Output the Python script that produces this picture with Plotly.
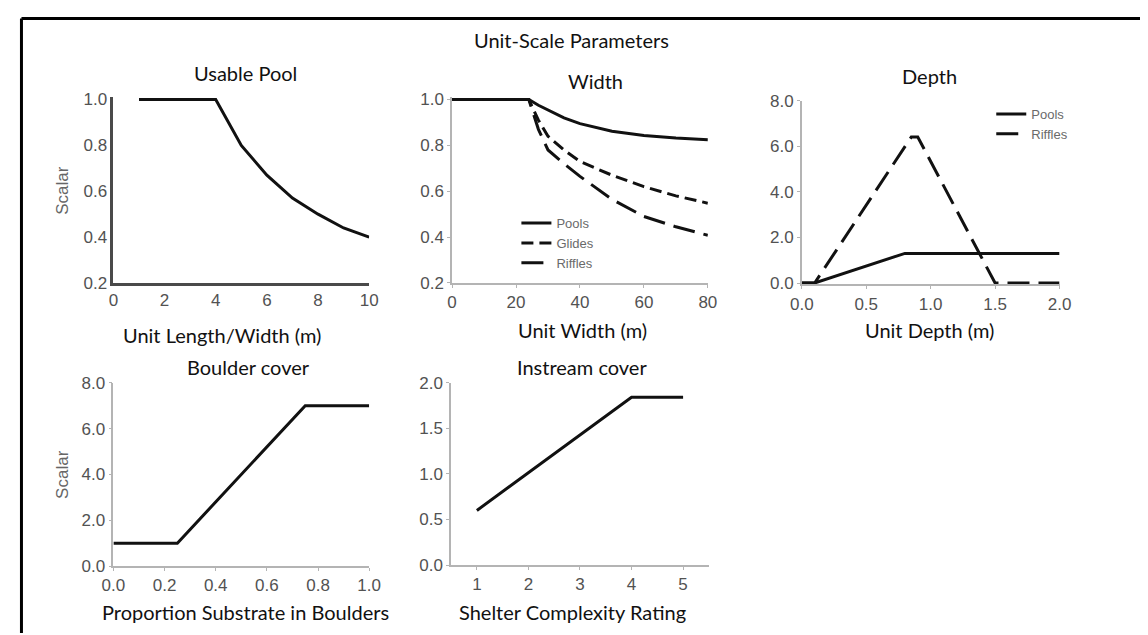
import plotly.graph_objects as go

W, H = 1148, 635

# ---------------- data ----------------
pool_length = [1, 2, 3, 4, 5, 6, 7, 8, 9, 10]
pool_scalar = [1.0, 1.0, 1.0, 1.0, 0.80, 0.67, 0.57, 0.50, 0.44, 0.40]

width_m = [0, 24, 27, 30, 35, 40, 50, 60, 70, 80]
width_pools = [1.0, 1.0, 0.975, 0.955, 0.92, 0.895, 0.862, 0.843, 0.832, 0.825]
width_glides = [1.0, 1.0, 0.91, 0.84, 0.78, 0.73, 0.67, 0.62, 0.58, 0.548]
width_riffles = [1.0, 1.0, 0.87, 0.78, 0.72, 0.665, 0.565, 0.49, 0.445, 0.408]

depth_pools_x = [0.0, 0.1, 0.8, 2.0]
depth_pools_y = [0.0, 0.0, 1.3, 1.3]
depth_riffles_x = [0.0, 0.1, 0.85, 0.9, 1.5, 2.0]
depth_riffles_y = [0.0, 0.0, 6.4, 6.4, 0.0, 0.0]

boulder_prop = [0.0, 0.25, 0.75, 1.0]
boulder_scalar = [1.0, 1.0, 7.0, 7.0]

shelter_rating = [1, 4, 5]
shelter_scalar = [0.6, 1.84, 1.84]

# ---------------- helpers (target pixel positions -> paper coords) ----------------
SX, OX = 0.98, 19.5
SY, OY = 0.973, 16.2


def px(x):
    return max(0.0, min(1.0, (x - OX) / SX / W))


def py(y):
    return max(0.0, min(1.0, 1 - (y - OY) / SY / H))


def ydomain(top_px, bottom_px):
    return [py(bottom_px), py(top_px)]


TICKFONT = dict(family="Liberation Sans, Arial, sans-serif", size=17, color="#525252")
TITLEFONT = dict(family="Lato, Open Sans, sans-serif", size=20, color="#111111")
LEGFONT = dict(family="Liberation Sans, Arial, sans-serif", size=13, color="#6a6a6a")

LIGHT = dict(showline=True, linecolor="#b4b4b4", linewidth=1.5, ticks="outside",
             ticklen=3, tickwidth=1, tickcolor="#b4b4b4", showgrid=False,
             zeroline=False, tickfont=TICKFONT, fixedrange=True)
DARK = dict(showline=True, linecolor="#4a4a4a", linewidth=2.5, ticks="",
            showgrid=False, zeroline=False, tickfont=TICKFONT, fixedrange=True)

BLACK = "#111111"
LW = 3

fig = go.Figure()

# Panel 1: Usable Pool
fig.add_trace(go.Scatter(x=pool_length, y=pool_scalar, mode="lines",
                         line=dict(color=BLACK, width=LW), showlegend=False,
                         xaxis="x", yaxis="y"))
# Panel 2: Width
fig.add_trace(go.Scatter(x=width_m, y=width_pools, mode="lines", name="Pools",
                         line=dict(color=BLACK, width=LW), legend="legend",
                         xaxis="x2", yaxis="y2"))
fig.add_trace(go.Scatter(x=width_m, y=width_glides, mode="lines", name="Glides",
                         line=dict(color=BLACK, width=LW, dash="12px,6px"), legend="legend",
                         xaxis="x2", yaxis="y2"))
fig.add_trace(go.Scatter(x=width_m, y=width_riffles, mode="lines", name="Riffles",
                         line=dict(color=BLACK, width=LW, dash="22px,9px"), legend="legend",
                         xaxis="x2", yaxis="y2"))
# Panel 3: Depth
fig.add_trace(go.Scatter(x=depth_pools_x, y=depth_pools_y, mode="lines", name="Pools",
                         line=dict(color=BLACK, width=LW), legend="legend2",
                         xaxis="x3", yaxis="y3"))
fig.add_trace(go.Scatter(x=depth_riffles_x, y=depth_riffles_y, mode="lines", name="Riffles",
                         line=dict(color=BLACK, width=LW, dash="22px,9px"), legend="legend2",
                         xaxis="x3", yaxis="y3"))
# Panel 4: Boulder cover
fig.add_trace(go.Scatter(x=boulder_prop, y=boulder_scalar, mode="lines",
                         line=dict(color=BLACK, width=LW), showlegend=False,
                         xaxis="x4", yaxis="y4"))
# Panel 5: Instream cover
fig.add_trace(go.Scatter(x=shelter_rating, y=shelter_scalar, mode="lines",
                         line=dict(color=BLACK, width=LW), showlegend=False,
                         xaxis="x5", yaxis="y5"))

fig.update_layout(
    width=W, height=H, margin=dict(l=0, r=0, t=0, b=0),
    paper_bgcolor="white", plot_bgcolor="white",
    xaxis=dict(DARK, domain=[px(113), px(369)], range=[0, 10], anchor="y",
               tickvals=[0, 2, 4, 6, 8, 10]),
    yaxis=dict(DARK, domain=ydomain(96.2, 283), range=[0.2, 1.012], anchor="x",
               tickvals=[0.2, 0.4, 0.6, 0.8, 1.0], tickformat=".1f"),
    xaxis2=dict(LIGHT, domain=[px(452), px(708)], range=[0, 80], anchor="y2",
                tickvals=[0, 20, 40, 60, 80]),
    yaxis2=dict(LIGHT, domain=ydomain(96.2, 283), range=[0.2, 1.012], anchor="x2",
                tickvals=[0.2, 0.4, 0.6, 0.8, 1.0], tickformat=".1f"),
    xaxis3=dict(LIGHT, domain=[px(802), px(1060)], range=[0, 2], anchor="y3",
                tickvals=[0, 0.5, 1.0, 1.5, 2.0], tickformat=".1f"),
    yaxis3=dict(LIGHT, domain=ydomain(100, 284.4), range=[-0.06, 8], anchor="x3",
                tickvals=[0, 2, 4, 6, 8], tickformat=".1f"),
    xaxis4=dict(LIGHT, domain=[px(113), px(369)], range=[0, 1], anchor="y4",
                tickvals=[0, 0.2, 0.4, 0.6, 0.8, 1.0], tickformat=".1f"),
    yaxis4=dict(LIGHT, domain=ydomain(383, 567), range=[0, 8], anchor="x4",
                tickvals=[0, 2, 4, 6, 8], tickformat=".1f"),
    xaxis5=dict(LIGHT, domain=[px(451), px(709)], range=[0.5, 5.5], anchor="y5",
                tickvals=[1, 2, 3, 4, 5]),
    yaxis5=dict(LIGHT, domain=ydomain(383, 566), range=[0, 2], anchor="x5",
                tickvals=[0, 0.5, 1.0, 1.5, 2.0], tickformat=".1f"),
    legend=dict(x=507 / W, y=1 - 197 / H, xanchor="left", yanchor="top",
                bgcolor="rgba(0,0,0,0)", font=LEGFONT, tracegroupgap=0,
                itemclick=False, itemdoubleclick=False),
    legend2=dict(x=992 / W, y=1 - 84.5 / H, xanchor="left", yanchor="top",
                 bgcolor="rgba(0,0,0,0)", font=LEGFONT, tracegroupgap=0,
                 itemclick=False, itemdoubleclick=False),
)

# outer frame (top and left edges)
fig.add_shape(type="line", xref="paper", yref="paper", x0=0.0013, x1=1, y0=1 - 1.5 / H, y1=1 - 1.5 / H,
              line=dict(color="black", width=3))
fig.add_shape(type="line", xref="paper", yref="paper", x0=0.0013, x1=0.0013, y0=1 - 1.5 / H, y1=0,
              line=dict(color="black", width=3))

texts = [
    ("Unit-Scale Parameters", 572, 39),
    ("Usable Pool", 245, 72),
    ("Width", 596, 80),
    ("Depth", 930, 75),
    ("Unit Length/Width (m)", 222, 335),
    ("Unit Width (m)", 583, 330),
    ("Unit Depth (m)", 930, 330),
    ("Boulder cover", 248, 367),
    ("Instream cover", 582, 367),
    ("Proportion Substrate in Boulders", 245, 613),
    ("Shelter Complexity Rating", 573, 613),
]
for t, x, y in texts:
    fig.add_annotation(text=t, x=px(x), y=py(y), xref="paper", yref="paper",
                       xanchor="center", yanchor="middle", showarrow=False, font=TITLEFONT)

for y in (190, 475):
    fig.add_annotation(text="Scalar", x=px(62), y=py(y), xref="paper", yref="paper",
                       xanchor="center", yanchor="middle", showarrow=False, textangle=-90,
                       font=dict(family="Liberation Sans, Arial, sans-serif", size=17, color="#666666"))

fig.write_html("out.html")
